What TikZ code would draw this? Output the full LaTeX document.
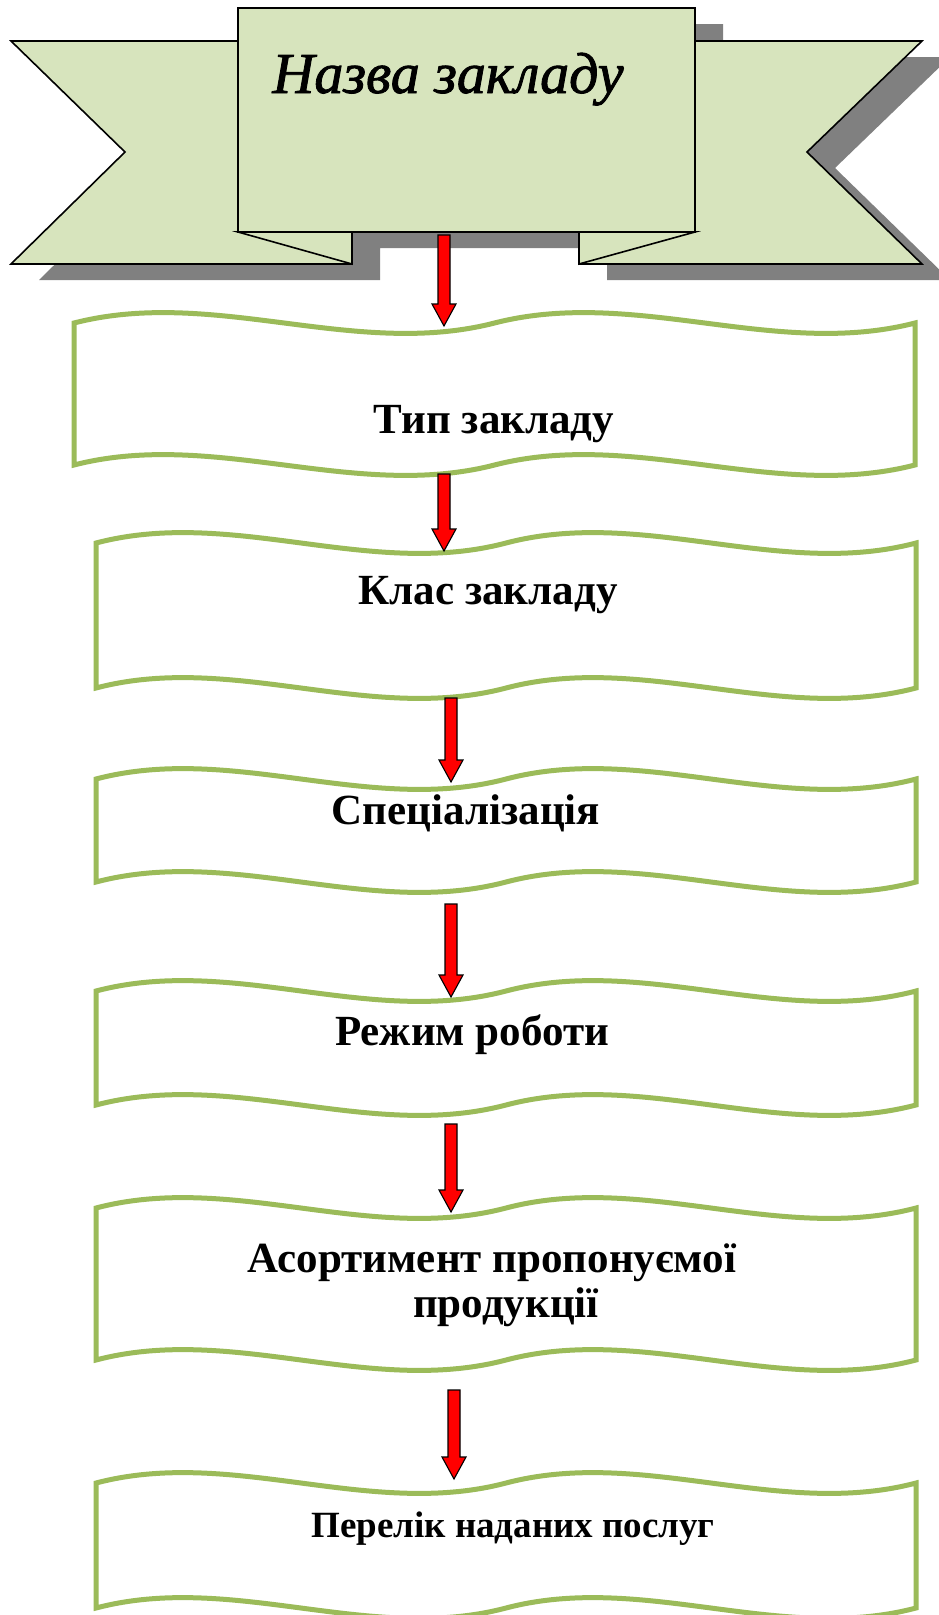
\documentclass[tikz,border=0pt]{standalone}
\usepackage{fontspec}
\setmainfont{Liberation Serif}
\newfontfamily\titlefont[ItalicFont=* Italic, ItalicFeatures={FakeBold=1.5}]{Liberation Serif}
\usetikzlibrary{calc}
\definecolor{ribbon}{HTML}{D7E4BD}
\definecolor{waveg}{HTML}{9BBB59}
\definecolor{shade}{HTML}{808080}
\tikzset{
  wave/.style={draw=waveg, line width=5pt, fill=white, line join=miter},
  ribbonpart/.style={draw=black, line width=1.6pt, fill=ribbon, line join=miter},
  shadowpart/.style={fill=shade},
  redarrow/.style={draw=black, line width=1.1pt, fill=red, line join=miter},
  lbl/.style={font=\fontsize{43}{50}\selectfont\bfseries, inner sep=0pt, anchor=base},
  lblsmall/.style={font=\fontsize{37}{44}\selectfont\bfseries, inner sep=0pt, anchor=base},
  titletext/.style={font=\titlefont\fontsize{58}{62}\selectfont\itshape, inner sep=0pt, anchor=base},
}
% name, left, right, top baseline, bottom baseline
\newcommand\wavebox[5]{%
  \pgfmathsetmacro\wvW{#3-#2}%
  \draw[wave] (#2,#4) .. controls (#2+\wvW/6,#4-36) and (#2+\wvW/3,#4+36) .. (#2+\wvW/2,#4)
     .. controls (#2+2*\wvW/3,#4-36) and (#2+5*\wvW/6,#4+36) .. (#3,#4)
     -- (#3,#5) .. controls (#2+5*\wvW/6,#5+36) and (#2+2*\wvW/3,#5-36) .. (#2+\wvW/2,#5)
     .. controls (#2+\wvW/3,#5+36) and (#2+\wvW/6,#5-36) .. (#2,#5) -- cycle;
  \coordinate (#1) at ({(#2+#3)/2},{(#4+#5)/2});
}
% block arrow from start coordinate (top centre) to tip coordinate
\newcommand\blockarrow[2]{%
  \draw[redarrow] let \p1=(#1), \p2=(#2) in
    (\x1-6pt,\y1) -- (\x1+6pt,\y1) -- (\x1+6pt,\y2+22pt) -- (\x1+12pt,\y2+22pt)
    -- (\x1,\y2) -- (\x1-12pt,\y2+22pt) -- (\x1-6pt,\y2+22pt) -- cycle;
}
\begin{document}
\begin{tikzpicture}[x=1pt,y=-1pt]
\useasboundingbox (0,0) rectangle (939,1615);
\fill[white] (0,0) rectangle (939,1615);

% ---------- ribbon banner ----------
\begin{scope}[shift={(28,16)}]
  \fill[shadowpart] (11,41) -- (238,41) -- (238,8) -- (695,8) -- (695,41) -- (922,41)
    -- (807,152) -- (922,264) -- (579,264) -- (579,232) -- (352,232) -- (352,264)
    -- (11,264) -- (125,152) -- cycle;
\end{scope}
\draw[ribbonpart] (11,41) -- (352,41) -- (352,264) -- (11,264) -- (125,152) -- cycle;
\draw[ribbonpart] (238,232) -- (352,264) -- (352,232) -- cycle;
\draw[ribbonpart] (922,41) -- (579,41) -- (579,264) -- (922,264) -- (807,152) -- cycle;
\draw[ribbonpart] (695,232) -- (579,264) -- (579,232) -- cycle;
\node[ribbonpart, minimum width=457pt, minimum height=224pt, inner sep=0pt] (banner) at (466.5,120) {};
\node[titletext] (title) at (448,93) {Назва закладу};

% ---------- wave boxes ----------
\wavebox{b1}{74}{915}{323}{465}
\wavebox{b2}{96}{916}{543}{688}
\wavebox{b3}{96}{916}{779}{882}
\wavebox{b4}{96}{916}{991}{1105}
\wavebox{b5}{96}{916}{1208}{1360}
\wavebox{b6}{96}{916}{1483}{1608}

\node[lbl] (t1) at (494,433) {Тип закладу};
\node[lbl] (t2) at (488,604) {Клас закладу};
\node[lbl] (t3) at (466,824) {Спеціалізація};
\node[lbl] (t4) at (472,1045) {Режим роботи};
\node[lbl] (t5a) at (492,1272) {Асортимент пропонуємої};
\node[lbl] (t5b) at (506,1317) {продукції};
\node[lblsmall] (t6) at (513,1537) {Перелік наданих послуг};

% ---------- arrows ----------
\coordinate (a1s) at (444,235);  \coordinate (a1e) at (444,326);
\coordinate (a2s) at (444,474);  \coordinate (a2e) at (444,551);
\coordinate (a3s) at (451,698);  \coordinate (a3e) at (451,782);
\coordinate (a4s) at (451,904);  \coordinate (a4e) at (451,997);
\coordinate (a5s) at (451,1124); \coordinate (a5e) at (451,1212);
\coordinate (a6s) at (454,1390); \coordinate (a6e) at (454,1479);
\blockarrow{a1s}{a1e}
\blockarrow{a2s}{a2e}
\blockarrow{a3s}{a3e}
\blockarrow{a4s}{a4e}
\blockarrow{a5s}{a5e}
\blockarrow{a6s}{a6e}
\end{tikzpicture}
\end{document}
